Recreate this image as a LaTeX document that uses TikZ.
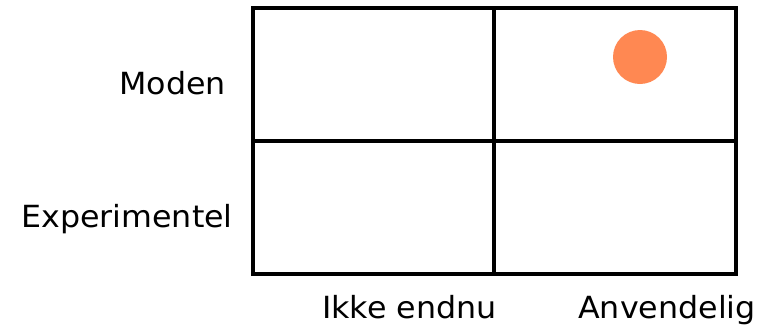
\documentclass[tikz,border=0pt]{standalone}
\usepackage{fontspec}
\setmainfont{DejaVu Sans}[FakeStretch=1.04]
\definecolor{dotorange}{HTML}{FF8852}
\begin{document}
\begin{tikzpicture}[x=1pt,y=-1pt,
  gridline/.style={line width=4.3pt,draw=black},
  lbl/.style={inner sep=0pt,font=\fontsize{30.5}{35}\selectfont}]
\useasboundingbox (0,0) rectangle (777,327);
\coordinate (tl) at (253,8);
\coordinate (br) at (736,274);
\coordinate (mt) at (494,8);
\coordinate (mb) at (494,274);
\coordinate (ml) at (253,141);
\coordinate (mr) at (736,141);
\draw[gridline] (tl) rectangle (br);
\draw[gridline] (mt) -- (mb);
\draw[gridline] (ml) -- (mr);
\node[circle,fill=dotorange,minimum size=54pt,inner sep=0pt] (dot) at (640,57) {};
\node[lbl,anchor=base east] (moden) at (226,94) {Moden};
\node[lbl,anchor=base east] (exp) at (233,227) {Experimentel};
\node[lbl,anchor=base west] (ikke) at (322,318) {Ikke endnu};
\node[lbl,anchor=base west] (anv) at (578,318) {Anvendelig};
\end{tikzpicture}
\end{document}
